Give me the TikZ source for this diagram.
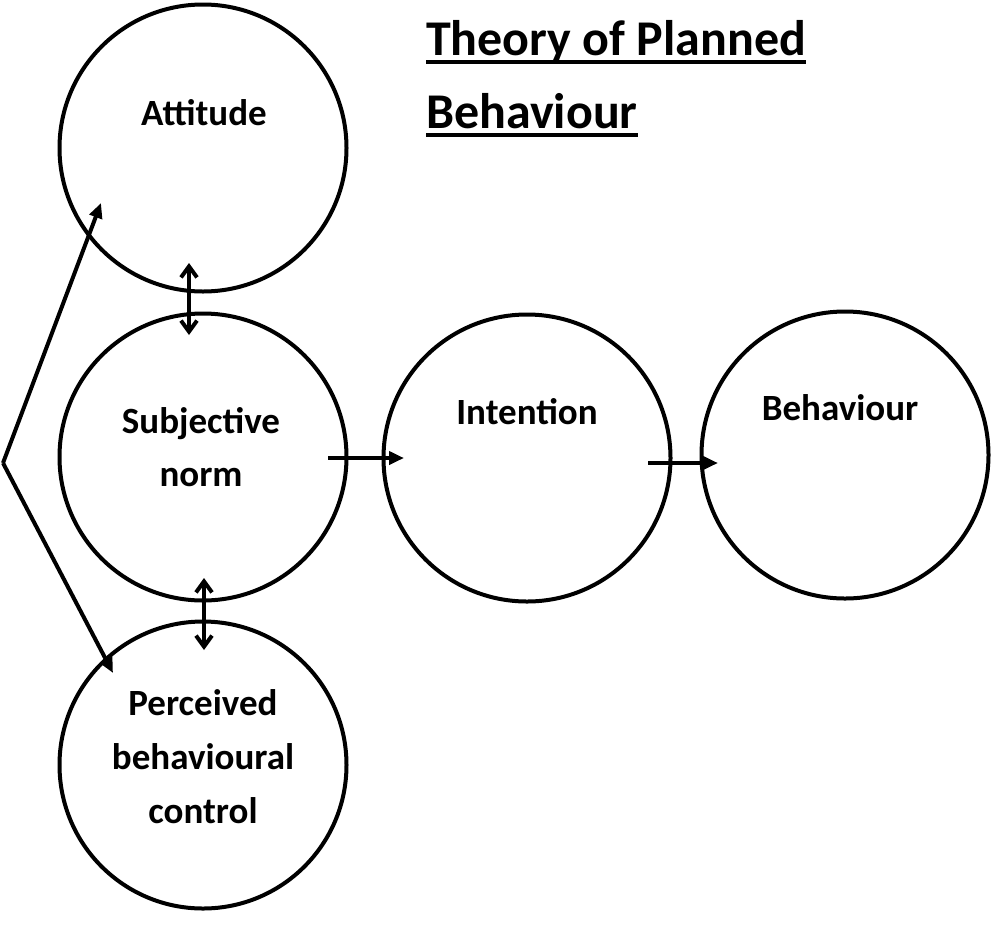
\documentclass[tikz,border=0pt]{standalone}
\usepackage{fontspec}
\setmainfont{Carlito}
\usetikzlibrary{arrows.meta}
\begin{document}
\begin{tikzpicture}[x=1pt,y=-1pt,
  bubble/.style={draw=black,line width=4pt,circle,minimum size=287pt,inner sep=0pt},
  lbl/.style={font=\bfseries\fontsize{37}{54}\selectfont,anchor=base,inner sep=0pt},
  ttl/.style={font=\bfseries\fontsize{50}{60}\selectfont,anchor=base west,inner sep=0pt},
  conn/.style={line width=4pt,-{Triangle[length=15pt,width=13pt]}},
  dbl/.style={line width=4pt,{Straight Barb[length=11pt,width=16pt,line width=4pt]}-{Straight Barb[length=11pt,width=16pt,line width=4pt]}}]
\useasboundingbox (0,0) rectangle (992,935);
% circles
\node[bubble] (att) at (203,148) {};
\node[bubble] (sub) at (203,457) {};
\node[bubble] (int) at (527,458) {};
\node[bubble] (beh) at (845,455) {};
\node[bubble] (pbc) at (203,765) {};
% labels
\node[lbl] (attl) at (204,125) {Attitude};
\node[lbl] (subl1) at (201,433) {Subjective};
\node[lbl] (subl2) at (201,486) {norm};
\node[lbl] (intl) at (527,424) {Intention};
\node[lbl] (behl) at (840,420) {Behaviour};
\node[lbl] (pbcl1) at (203,715) {Perceived};
\node[lbl] (pbcl2) at (203,769) {behavioural};
\node[lbl] (pbcl3) at (203,823) {control};
% title
\node[ttl] (t1) at (426,55) {Theory of Planned};
\node[ttl] (t2) at (426,128) {Behaviour};
\draw[line width=4pt] ([yshift=-7pt]t1.base west) -- ([yshift=-7pt]t1.base east);
\draw[line width=4pt] ([yshift=-7pt]t2.base west) -- ([yshift=-7pt]t2.base east);
% connectors
\coordinate (d1a) at (189,263);
\coordinate (d1b) at (189,335);
\coordinate (d2a) at (204,578);
\coordinate (d2b) at (204,650);
\draw[dbl] (d1a) -- (d1b);
\draw[dbl] (d2a) -- (d2b);
\coordinate (h1a) at (328,458);
\coordinate (h1b) at (404,458);
\coordinate (h2a) at (648,463);
\coordinate (h2b) at (718,463);
\draw[conn] (h1a) -- (h1b);
\draw[conn] (h2a) -- (h2b);
\coordinate (fork) at (3,463);
\coordinate (ftop) at (101,203);
\coordinate (fbot) at (113,673);
\draw[conn] (fork) -- (ftop);
\draw[conn] (fork) -- (fbot);
\end{tikzpicture}
\end{document}
